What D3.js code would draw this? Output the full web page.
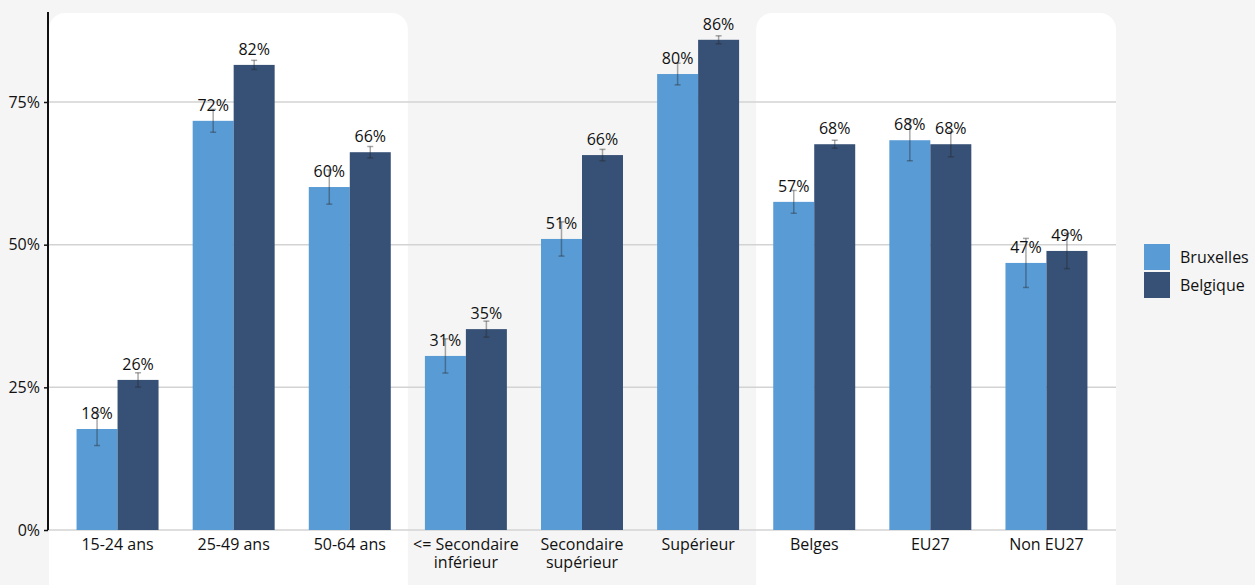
<!DOCTYPE html>
<html><head><meta charset="utf-8">
<script src="https://cdn.jsdelivr.net/npm/d3@7"></script>
<style>
html,body{margin:0;padding:0;background:#f5f5f5;}
svg{display:block;font-family:"Open Sans",sans-serif;}
</style></head>
<body>
<svg id="chart" width="1255" height="585"></svg>
<script>
const categories = [["15-24 ans"],["25-49 ans"],["50-64 ans"],["<= Secondaire","inférieur"],["Secondaire","supérieur"],["Supérieur"],["Belges"],["EU27"],["Non EU27"]];
const series = ["Bruxelles","Belgique"];
const bruxelles = [0.177,0.717,0.601,0.305,0.510,0.799,0.575,0.683,0.468];
const belgique  = [0.263,0.815,0.662,0.352,0.657,0.859,0.676,0.676,0.489];
const bruxellesErr = [0.029,0.020,0.030,0.030,0.030,0.019,0.020,0.036,0.043];
const belgiqueErr  = [0.0125,0.008,0.010,0.014,0.010,0.007,0.007,0.022,0.031];
const yTicks = [0,0.25,0.5,0.75];
const colors = ["#599bd5","#365076"];
const panels = [[0,2],[6,8]];

const FS = 16;
const svg = d3.select("#chart");
const catKeys = categories.map(c=>c.join(" "));
const x0 = d3.scaleBand().domain(catKeys).range([48,1116]).paddingInner(0.294).paddingOuter(0.246);
const x1 = d3.scaleBand().domain(series).range([0,x0.bandwidth()]);
const y = d3.scaleLinear().domain([0,0.9077]).range([530,12]);
const step = x0.step(), gap = step - x0.bandwidth();

// panels
panels.forEach(([a,b])=>{
  const left = a===0 ? 49 : x0(catKeys[a]) - gap/2;
  const right = b===categories.length-1 ? 1116 : x0(catKeys[b]) + x0.bandwidth() + gap/2;
  svg.append("rect").attr("x",left).attr("y",13).attr("width",right-left).attr("height",572+20)
    .attr("rx",16).attr("fill","#ffffff");
});

// gridlines
svg.append("g").selectAll("line").data(yTicks).join("line")
  .attr("x1",48).attr("x2",1116).attr("y1",d=>y(d)).attr("y2",d=>y(d))
  .attr("stroke","#d3d3d3").attr("stroke-width",1.5);

// y axis
const yAxis = svg.append("g").attr("transform","translate(48,0)")
  .call(d3.axisLeft(y).tickValues(yTicks).tickFormat(d3.format(".0%")).tickSize(4).tickPadding(4));
yAxis.select(".domain").attr("stroke","#111").attr("stroke-width",2).attr("d","M0,12V530");
yAxis.selectAll(".tick line").attr("stroke","#111").attr("stroke-width",1.5);
yAxis.selectAll(".tick text").attr("font-size",FS).attr("fill","#111").attr("font-family","Open Sans, sans-serif");

// bars
const data = categories.map((c,i)=>({key:catKeys[i],lines:c,vals:[
  {s:series[0],v:bruxelles[i],e:bruxellesErr[i]},
  {s:series[1],v:belgique[i],e:belgiqueErr[i]}]}));
const g = svg.append("g").selectAll("g").data(data).join("g")
  .attr("transform",d=>`translate(${x0(d.key)},0)`);
g.selectAll("rect").data(d=>d.vals).join("rect")
  .attr("x",d=>x1(d.s)).attr("width",x1.bandwidth())
  .attr("y",d=>y(d.v)).attr("height",d=>y(0)-y(d.v))
  .attr("fill",(d,i)=>colors[i]);

// value labels
g.selectAll("text.val").data(d=>d.vals).join("text").attr("class","val")
  .attr("x",d=>x1(d.s)+x1.bandwidth()/2).attr("y",d=>y(d.v)-10)
  .attr("text-anchor","middle").attr("font-size",FS).attr("fill","#111")
  .text(d=>d3.format(".0%")(d.v));

// error bars
const eb = g.selectAll("g.err").data(d=>d.vals).join("g").attr("class","err")
  .attr("stroke","rgba(40,40,40,0.4)").attr("stroke-width",1.5);
eb.append("line").attr("x1",d=>x1(d.s)+x1.bandwidth()/2).attr("x2",d=>x1(d.s)+x1.bandwidth()/2)
  .attr("y1",d=>y(d.v+d.e)).attr("y2",d=>y(d.v-d.e));
eb.append("line").attr("x1",d=>x1(d.s)+x1.bandwidth()/2-3).attr("x2",d=>x1(d.s)+x1.bandwidth()/2+3)
  .attr("y1",d=>y(d.v+d.e)).attr("y2",d=>y(d.v+d.e));
eb.append("line").attr("x1",d=>x1(d.s)+x1.bandwidth()/2-3).attr("x2",d=>x1(d.s)+x1.bandwidth()/2+3)
  .attr("y1",d=>y(d.v-d.e)).attr("y2",d=>y(d.v-d.e));

// x labels
g.each(function(d){
  d.lines.forEach((l,i)=>d3.select(this).append("text").attr("text-anchor","middle")
    .attr("font-size",FS).attr("fill","#111")
    .attr("x",x0.bandwidth()/2).attr("y",550+i*18).text(l));
});

// legend
const lg = svg.append("g").selectAll("g").data(series).join("g")
  .attr("transform",(d,i)=>`translate(1144,${244+i*28})`);
lg.append("rect").attr("width",26).attr("height",26).attr("fill",(d,i)=>colors[i]);
lg.append("text").attr("x",36).attr("y",13).attr("dy","0.35em").attr("font-size",FS).attr("fill","#111").text(d=>d);
</script>
</body></html>
